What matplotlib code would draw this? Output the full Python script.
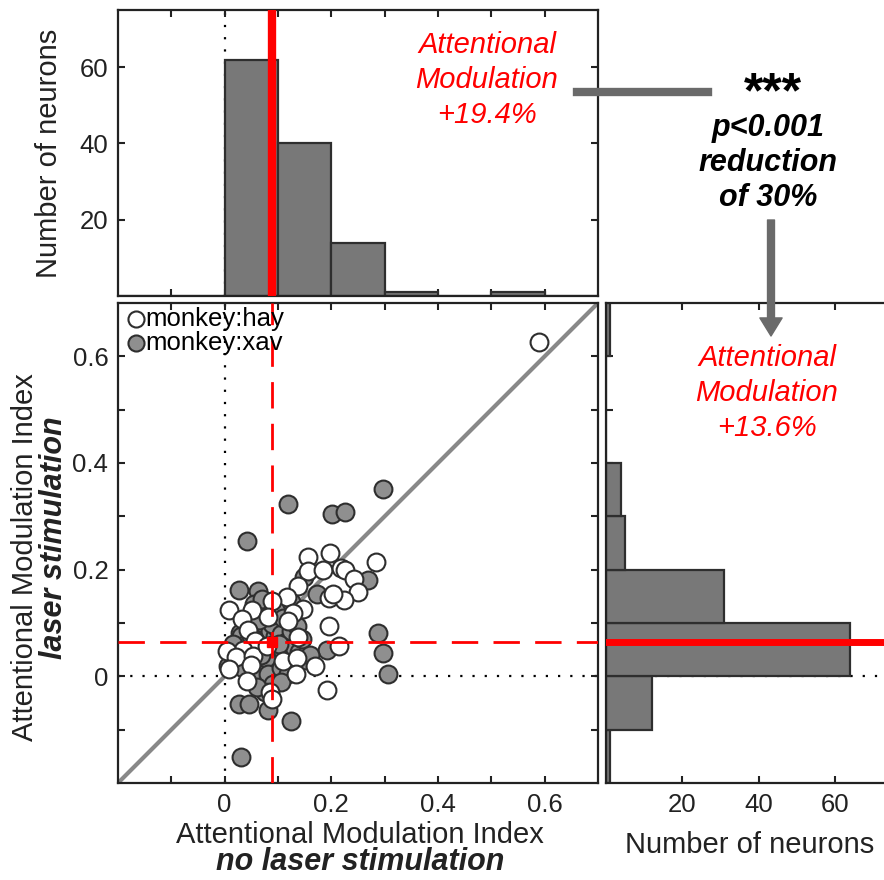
import numpy as np
import matplotlib
matplotlib.use('Agg')
import matplotlib.pyplot as plt
from matplotlib.lines import Line2D
from matplotlib.patches import FancyArrowPatch

plt.rcParams['font.family'] = ['Liberation Sans', 'DejaVu Sans']

# ---- data ----
# monkey hay (white), attentional modulation index: no laser (x) vs laser (y)
hay_x = [0.590, 0.157, 0.198, 0.284, 0.157, 0.184, 0.219, 0.226, 0.242, 0.250,
         0.138, 0.196, 0.223, 0.204, 0.116, 0.089, 0.147, 0.129, 0.009, 0.052,
         0.033, 0.081, 0.118, 0.196, 0.043, 0.138, 0.214, 0.057, 0.035, 0.004,
         0.021, 0.053, 0.009, 0.050, 0.110, 0.135, 0.170, 0.133, 0.041, 0.191,
         0.085, 0.088, 0.079]
hay_y = [0.627, 0.223, 0.231, 0.215, 0.198, 0.199, 0.204, 0.199, 0.182, 0.158,
         0.169, 0.146, 0.143, 0.154, 0.149, 0.142, 0.127, 0.119, 0.124, 0.125,
         0.108, 0.111, 0.104, 0.094, 0.086, 0.074, 0.057, 0.066, 0.050, 0.047,
         0.036, 0.039, 0.014, 0.022, 0.028, 0.035, 0.019, 0.005, -0.009, -0.025,
         -0.030, -0.042, 0.057]

# monkey xav (gray)
xav_x = [0.297, 0.118, 0.201, 0.225, 0.041, 0.027, 0.062, 0.269, 0.173, 0.288,
         0.296, 0.306, 0.191, 0.026, 0.045, 0.081, 0.125, 0.031, 0.006, 0.028,
         0.148,
         0.030, 0.045, 0.060, 0.070, 0.075, 0.085, 0.095, 0.065, 0.080, 0.090,
         0.055, 0.070, 0.085, 0.095, 0.040, 0.025, 0.060, 0.078, 0.092, 0.050,
         0.035, 0.015, 0.098, 0.068, 0.082, 0.058, 0.045, 0.088,
         0.105, 0.115, 0.125, 0.110, 0.120, 0.130, 0.140, 0.150, 0.105, 0.118,
         0.135, 0.145, 0.160, 0.102,
         0.065, 0.075, 0.090, 0.055, 0.070, 0.105, 0.125, 0.110,
         0.090, 0.075, 0.060, 0.105]
xav_y = [0.351, 0.324, 0.305, 0.308, 0.253, 0.162, 0.160, 0.181, 0.154, 0.081,
         0.044, 0.005, 0.049, -0.052, -0.052, -0.064, -0.083, -0.151, 0.020, 0.082,
         0.186,
         0.075, 0.090, 0.080, 0.095, 0.070, 0.085, 0.075, 0.055, 0.050, 0.040,
         0.030, 0.020, 0.015, 0.030, 0.060, 0.030, 0.010, 0.035, 0.060, 0.075,
         0.015, 0.060, 0.090, 0.040, 0.005, 0.065, 0.045, 0.098,
         0.080, 0.065, 0.085, 0.045, 0.030, 0.055, 0.045, 0.030, 0.015, 0.005,
         0.095, 0.070, 0.040, 0.060,
         0.105, 0.125, 0.115, 0.135, 0.145, 0.130, 0.140, 0.110,
         -0.015, -0.030, -0.020, -0.010]

# histogram counts, bins of 0.1 from -0.2 to 0.7
bin_edges = np.round(np.arange(-0.2, 0.71, 0.1), 2)
counts_no_laser = [0, 0, 62, 40, 14, 1, 0, 1, 0]
counts_laser = [1, 12, 64, 31, 5, 4, 0, 0, 1]

mean_no_laser = 0.088   # -> +19.4 %
mean_laser = 0.064      # -> +13.6 %

lims = (-0.2, 0.7)
edge = '#2e2e2e'
spine_col = '#222222'

W, H = 884, 880
fig = plt.figure(figsize=(W / 100, H / 100), dpi=100)


def fx(px):
    return px / W


def fy(py):
    return 1 - py / H


ax_sc = fig.add_axes([fx(118), fy(783), fx(598) - fx(118), fy(303) - fy(783)])
ax_top = fig.add_axes([fx(118), fy(296), fx(598) - fx(118), fy(10) - fy(296)])
ax_rt = fig.add_axes([fx(606), fy(783), 75 * 3.82 / W, fy(303) - fy(783)])

for ax in (ax_sc, ax_top, ax_rt):
    for s in ax.spines.values():
        s.set_linewidth(1.6)
        s.set_color(spine_col)
    ax.tick_params(direction='in', length=5, width=1.5, top=True, right=True,
                   labelsize=18.5, colors=spine_col, pad=7)

# ---- scatter ----
ax_sc.axvline(0, color='black', lw=1.6, ls=(0, (1, 4.5)), zorder=1)
ax_sc.axhline(0, color='black', lw=1.6, ls=(0, (1, 4.5)), zorder=1)
ax_sc.plot(lims, lims, color='#888888', lw=3, zorder=2)
ax_sc.scatter(xav_x, xav_y, s=165, facecolor='#8f8f8f', edgecolor=edge,
              linewidth=1.5, zorder=3, label='monkey:xav')
ax_sc.scatter(hay_x, hay_y, s=165, facecolor='white', edgecolor=edge,
              linewidth=1.5, zorder=4, label='monkey:hay')
ax_sc.axvline(mean_no_laser, color='red', lw=2, dashes=(9.5, 5.5), zorder=5)
ax_sc.axhline(mean_laser, color='red', lw=2, dashes=(9.5, 5.5), zorder=5)
ax_sc.plot([mean_no_laser], [mean_laser], 's', color='red', ms=7, zorder=6)
ax_sc.set_xlim(lims)
ax_sc.set_ylim(lims)
ticks = np.round(np.arange(-0.1, 0.61, 0.1), 1)
labels = ['' if i % 2 == 0 else ('0' if t == 0 else f'{t:g}') for i, t in enumerate(ticks)]
ax_sc.set_xticks(ticks)
ax_sc.set_xticklabels(labels)
ax_sc.set_yticks(ticks)
ax_sc.set_yticklabels(labels)
h, l = ax_sc.get_legend_handles_labels()
ax_sc.legend(h[::-1], l[::-1], loc='upper left', frameon=False, fontsize=18.5,
             handletextpad=-0.2, borderaxespad=0.0, labelspacing=0.0,
             handlelength=1.1, borderpad=0.15, markerscale=0.9)

# ---- top histogram ----
ax_top.axvline(0, color='black', lw=1.6, ls=(0, (1, 4.5)), zorder=1)
ax_top.bar(bin_edges[:-1], counts_no_laser, width=0.1, align='edge',
           color='#787878', edgecolor=edge, linewidth=1.6, zorder=2)
ax_top.axvline(mean_no_laser, color='red', lw=6, zorder=3)
ax_top.set_xlim(lims)
ax_top.set_ylim(0, 75)
ax_top.set_xticks(ticks)
ax_top.set_xticklabels([])
ax_top.set_yticks([20, 40, 60])
ax_top.set_ylabel('Number of neurons', fontsize=21, color=spine_col, labelpad=12)

# ---- right histogram ----
ax_rt.axhline(0, color='black', lw=1.6, ls=(0, (1, 4.5)), zorder=1)
ax_rt.barh(bin_edges[:-1], counts_laser, height=0.1, align='edge',
           color='#787878', edgecolor=edge, linewidth=1.6, zorder=2)
ax_rt.axhline(mean_laser, color='red', lw=5, zorder=3)
ax_rt.set_ylim(lims)
ax_rt.set_xlim(0, 75)
ax_rt.set_yticks(ticks)
ax_rt.set_yticklabels([])
ax_rt.set_xticks([20, 40, 60])
ax_rt.spines['right'].set_visible(False)
ax_rt.set_xlabel('Number of neurons', fontsize=21, color=spine_col, labelpad=10)

# ---- axis labels of the scatter ----
fig.text(fx(360), fy(835), 'Attentional Modulation Index', fontsize=21,
         color=spine_col, ha='center', va='center')
fig.text(fx(360), fy(862), 'no laser stimulation', fontsize=22, color=spine_col,
         ha='center', va='center', weight='bold', style='italic')
fig.text(fx(25), fy(557), 'Attentional Modulation Index', fontsize=21,
         color=spine_col, ha='center', va='center', rotation=90)
fig.text(fx(54), fy(538), 'laser stimulation', fontsize=22, color=spine_col,
         ha='center', va='center', rotation=90, weight='bold', style='italic')

# ---- annotations ----
fig.text(fx(487), fy(80), 'Attentional\nModulation\n+19.4%', fontsize=21,
         color='red', style='italic', ha='center', va='center', linespacing=1.3)
fig.text(fx(767), fy(393), 'Attentional\nModulation\n+13.6%', fontsize=21,
         color='red', style='italic', ha='center', va='center', linespacing=1.3)
fig.text(fx(773), fy(94), '***', fontsize=36, weight='bold', ha='center',
         va='center')
fig.text(fx(768), fy(163), 'p<0.001\nreduction\nof 30%', fontsize=22,
         weight='bold', style='italic', ha='center', va='center', linespacing=1.2)

fig.add_artist(Line2D([fx(577), fx(708)], [fy(92), fy(92)], color='#6a6a6a',
                      lw=6, transform=fig.transFigure))
fig.add_artist(FancyArrowPatch((fx(771), fy(220)), (fx(771), fy(336)),
                               transform=fig.transFigure, mutation_scale=10,
                               arrowstyle='simple,head_width=1.6,head_length=1.3,tail_width=0.5',
                               color='#6a6a6a', shrinkA=0, shrinkB=0))

plt.savefig('out.png', dpi=100)
